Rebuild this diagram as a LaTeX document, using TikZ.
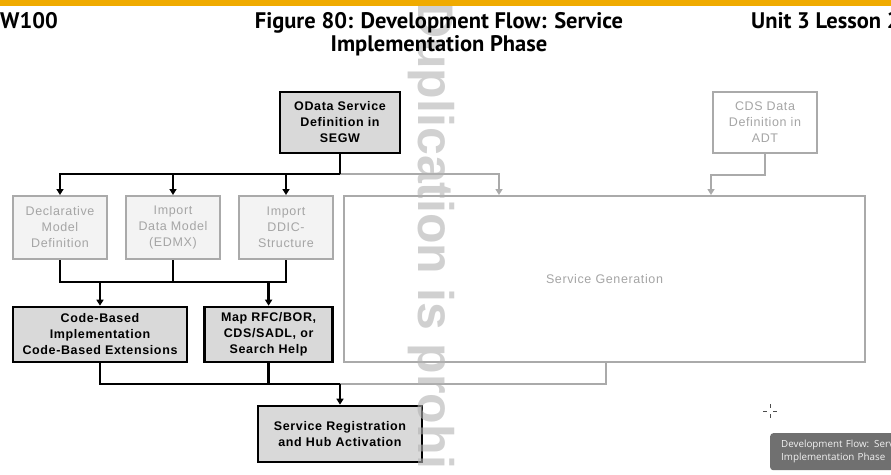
\documentclass[tikz,border=0pt]{standalone}
\usepackage{fontspec}
\setmainfont{Liberation Sans}
\newfontfamily\boxfont[LetterSpace=5]{Liberation Sans}
\newfontfamily\headfont{PT Sans}
\newfontfamily\tipfont{Open Sans}
\usepackage{tikz}
\usetikzlibrary{positioning}
\usetikzlibrary{arrows.meta}

\definecolor{sapgold}{RGB}{240,171,0}
\definecolor{boxgrey}{RGB}{217,217,217}
\definecolor{lightline}{RGB}{170,170,170}
\definecolor{lighttext}{RGB}{165,165,165}
\definecolor{lightfill}{RGB}{243,243,243}
\definecolor{tipgrey}{RGB}{112,112,112}

\begin{document}
\begin{tikzpicture}[
            x = 1pt, y = -1pt, % pixel grid, y down
            > = {Triangle[length=6pt,width=7pt]}, % arrow head style
            line join = miter
        ]

        \tikzstyle{darkbox}=[
            draw = black,
            fill = boxgrey,
            line width = 2.6pt,
            align = center,
            inner sep = 0pt,
            font = \boxfont\bfseries\fontsize{12.5}{16}\selectfont
        ]
        \tikzstyle{greybox}=[
            draw = lightline,
            fill = lightfill,
            line width = 2pt,
            text = lighttext,
            align = center,
            inner sep = 0pt,
            minimum width = 94pt,
            minimum height = 63pt,
            font = \boxfont\fontsize{12.5}{16}\selectfont
        ]
        \tikzstyle{blackline}=[draw = black, line width = 2.7pt]
        \tikzstyle{greyline}=[draw = lightline, line width = 2pt]
        \tikzstyle{headline}=[inner sep = 0pt, font = \headfont\bfseries\fontsize{22.5}{23.5}\selectfont]

        \useasboundingbox (0,0) rectangle (891,474);

	% SERVICE DEFINITION SOURCES
        \node[darkbox, minimum width=120pt, minimum height=61pt] (odata) at (340,122.5) {OData Service\\Definition in\\SEGW};
        \node[greybox, fill=white, minimum width=104pt, minimum height=61pt] (cdsdata) at (765,122.5) {CDS Data\\Definition in\\ADT};

        \node[greybox] (declarative) at (60,227.5) {Declarative\\Model\\Definition};
        \node[greybox, right=17pt of declarative] (importedmx) {Import\\Data Model\\(EDMX)};
        \node[greybox, right=17pt of importedmx] (importddic) {Import\\DDIC-\\Structure};

        \node[greybox, fill=white, minimum width=521pt, minimum height=166pt] (servicegen) at (604.5,279) {Service Generation};

	% IMPLEMENTATION AND REGISTRATION
        \node[darkbox, minimum width=174pt, minimum height=55pt] (codebased) at (100,334.5) {Code-Based\\Implementation\\Code-Based Extensions};
        \node[darkbox, minimum width=128pt, minimum height=55pt, right=15pt of codebased] (maprfc) {Map RFC/BOR,\\CDS/SADL, or\\Search Help};
        \node[darkbox, minimum width=164pt, minimum height=56pt] (registration) at (340,434) {Service Registration\\and Hub Activation};

	% CONNECTORS
        \coordinate (topbus) at (340,174);
        \coordinate (gentap) at (499,174);
        \coordinate (cdstap) at (711,175);
        \coordinate (midbus) at (60,282);
        \coordinate (lowbus) at (340,384);
        \coordinate (gentail) at (606,384);

        \draw[greyline, ->] (topbus) -- (gentap) -- (gentap |- servicegen.north);
        \draw[greyline, ->] (cdsdata.south) |- (cdstap) -- (cdstap |- servicegen.north);
        \draw[greyline] (lowbus) -- (gentail) -- (gentail |- servicegen.south);

        \draw[blackline] (odata.south) -- (topbus);
        \draw[blackline, ->] (topbus) -| (declarative.north);
        \draw[blackline, ->] (importedmx.north |- topbus) -- (importedmx.north);
        \draw[blackline, ->] (importddic.north |- topbus) -- (importddic.north);

        \draw[blackline] (declarative.south) -- (declarative.south |- midbus) -- (importddic.south |- midbus) -- (importddic.south);
        \draw[blackline] (importedmx.south) -- (importedmx.south |- midbus);
        \draw[blackline, ->] (codebased.north |- midbus) -- (codebased.north);
        \draw[blackline, ->] (maprfc.north |- midbus) -- (maprfc.north);

        \draw[blackline] (codebased.south) |- (lowbus);
        \draw[blackline] (maprfc.south) -- (maprfc.south |- lowbus);
        \draw[blackline, ->] (lowbus) -- (registration.north);

	% WATERMARK AND PAGE HEADER
        \node[rotate=-90, anchor=west, inner sep=0pt, text=black!30, opacity=0.6,
              font=\bfseries\fontsize{50}{50}\selectfont] (stamp) at (431,2) {Duplication is prohi};
        \fill[sapgold] (0,0) rectangle (891,6);
        \node[headline, anchor=base west] (course) at (0,28) {W100};
        \node[headline, anchor=base, align=center] (title) at (439,51.5)
            {Figure 80: Development Flow: Service\\Implementation Phase};
        \node[headline, anchor=base west] (unit) at (751,28) {Unit 3 Lesson 2};

	% POINTER AND TOOLTIP
        \coordinate (cursor) at (770,411);
        \draw[line width=1pt, draw=black!70] (cursor) ++(-7,0) -- ++(4,0) ++(6,0) -- ++(4,0)
                                             (cursor) ++(0,-7) -- ++(0,4) ++(0,6) -- ++(0,4);
        \node[anchor=north west, fill=tipgrey, rounded corners=3pt, minimum width=140pt, minimum height=37pt,
              inner sep=0pt, text width=130pt, align=left, text=white!95!black,
              font=\tipfont\fontsize{9.8}{13}\selectfont] (tooltip) at (770,433)
            {\hspace*{6pt}Development Flow: Serv\\\hspace*{6pt}Implementation Phase};

  \end{tikzpicture}
\end{document}
